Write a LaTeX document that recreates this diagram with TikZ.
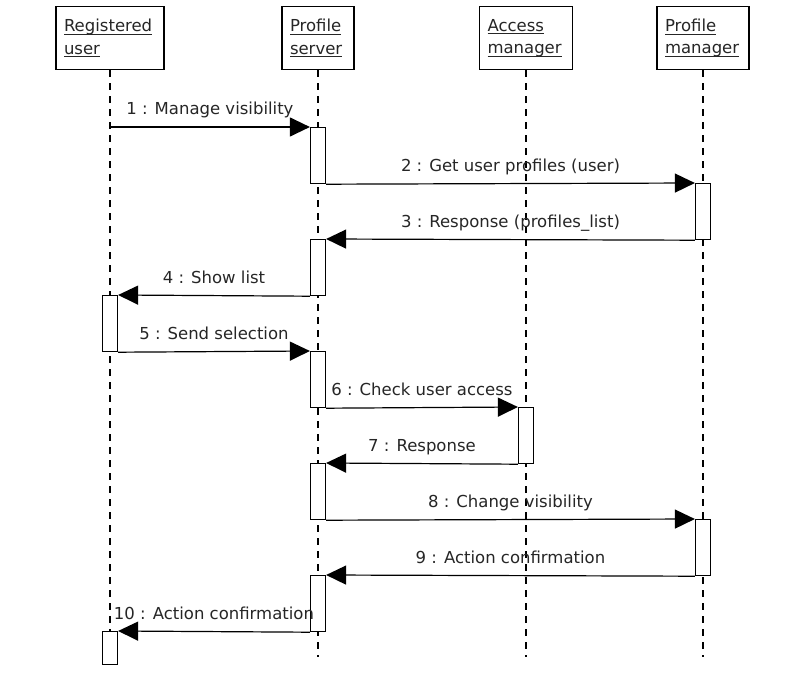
\documentclass[tikz,border=0pt]{standalone}
\usepackage{fontspec}
\setmainfont{DejaVu Sans}
\usetikzlibrary{arrows.meta}
% underline drawn just below the baseline, crossing descenders
\newcommand{\ulined}[1]{\leavevmode\setbox0\hbox{#1}\rlap{\rule[-3.2pt]{\wd0}{1pt}}\box0}
\begin{document}
\begin{tikzpicture}[x=1pt,y=-1pt,
  head/.style={draw, line width=1.2pt, fill=white, align=left, inner xsep=8pt, inner ysep=0pt,
    minimum height=63pt, anchor=north, font=\fontsize{16.5}{22.5}\selectfont, text=black!85},
  act/.style={draw, fill=white, line width=1.2pt, minimum width=15pt, minimum height=56pt,
    inner sep=0pt, anchor=north},
  life/.style={dash pattern=on 7pt off 6pt, line width=1.1pt},
  msg/.style={line width=1.2pt, -{Triangle[length=20pt,width=19pt]}},
  lbl/.style={font=\fontsize{16.5}{20}\selectfont, text=black!85, anchor=base, yshift=12pt}]
\useasboundingbox (0,0) rectangle (787,679);
\fill[white] (0,0) rectangle (787,679);

% object heads
\node[head, text width=92pt] (hu) at (110,6) {\ulined{Registered}\\\ulined{user}};
\node[head, text width=56pt] (hs) at (318,6) {\ulined{Profile}\\\ulined{server}};
\node[head, text width=77pt] (ha) at (526,6) {\ulined{Access}\\\ulined{manager}};
\node[head, text width=76pt] (hp) at (703,6) {\ulined{Profile}\\\ulined{manager}};

% lifeline ends
\coordinate (eu) at (110,631);
\coordinate (es) at (318,657);
\coordinate (ea) at (526,657);
\coordinate (ep) at (703,657);
\draw[life] (hu.south) -- (eu);
\draw[life] (hs.south) -- (es);
\draw[life] (ha.south) -- (ea);
\draw[life] (hp.south) -- (ep);

% activation bars
\node[act] (a1) at (318,127) {};
\node[act] (a2) at (703,183) {};
\node[act] (a3) at (318,239) {};
\node[act] (a4) at (110,295) {};
\node[act] (a5) at (318,351) {};
\node[act] (a6) at (526,407) {};
\node[act] (a7) at (318,463) {};
\node[act] (a8) at (703,519) {};
\node[act] (a9) at (318,575) {};
\node[act, minimum height=33pt] (a10) at (110,631) {};

% messages
\coordinate (m1) at (110,127);
\draw[msg] (m1) -- (a1.north west) node[lbl, midway] {1 : Manage visibility};
\draw[msg] (a1.south east) -- (a2.north west) node[lbl, midway] {2 : Get user profiles (user)};
\draw[msg] (a2.south west) -- (a3.north east) node[lbl, midway] {3 : Response (profiles\_list)};
\draw[msg] (a3.south west) -- (a4.north east) node[lbl, midway] {4 : Show list};
\draw[msg] (a4.south east) -- (a5.north west) node[lbl, midway] {5 : Send selection};
\draw[msg] (a5.south east) -- (a6.north west) node[lbl, midway] {6 : Check user access};
\draw[msg] (a6.south west) -- (a7.north east) node[lbl, midway] {7 : Response};
\draw[msg] (a7.south east) -- (a8.north west) node[lbl, midway] {8 : Change visibility};
\draw[msg] (a8.south west) -- (a9.north east) node[lbl, midway] {9 : Action confirmation};
\draw[msg] (a9.south west) -- (a10.north east) node[lbl, midway] {10 : Action confirmation};
\end{tikzpicture}
\end{document}
